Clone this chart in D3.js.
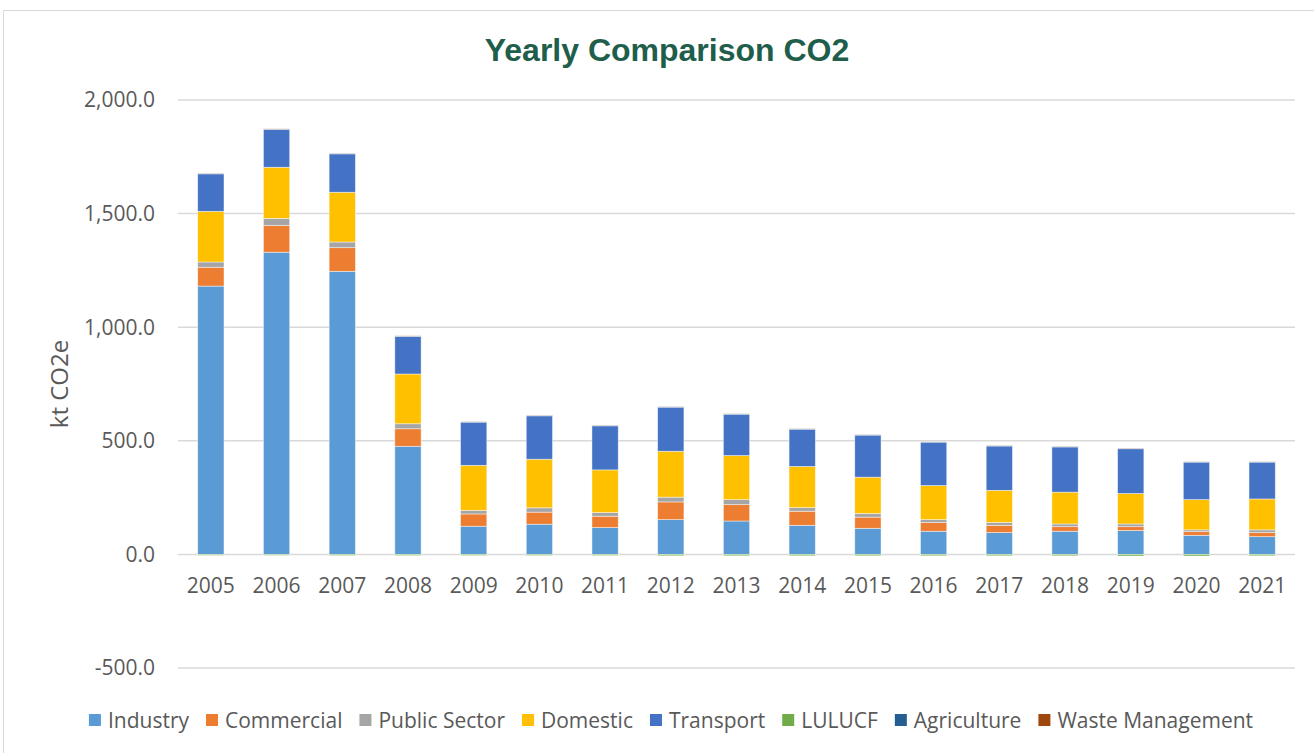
<!DOCTYPE html>
<html>
<head>
<meta charset="utf-8">
<script src="https://cdn.jsdelivr.net/npm/d3@7"></script>
<style>
  body { margin: 0; background: #fff; }
  svg { display: block; }
</style>
</head>
<body>
<svg id="chart" width="1314" height="753"></svg>
<script>
const years = ['2005', '2006', '2007', '2008', '2009', '2010', '2011', '2012', '2013',
  '2014', '2015', '2016', '2017', '2018', '2019', '2020', '2021'];
const seriesNames = ['Industry', 'Commercial', 'Public Sector', 'Domestic', 'Transport',
  'LULUCF', 'Agriculture', 'Waste Management'];

const industry = [1181, 1330, 1246, 476, 124, 133, 118, 153, 147, 128, 115, 102, 96, 102, 105, 84, 78];
const commercial = [83, 118, 104, 77, 54, 53, 50, 78, 72, 62, 49, 38, 32, 20, 17, 16, 18];
const publicSector = [23, 31, 25, 22, 16, 19, 16, 21, 22, 16, 16, 13, 13, 12, 12, 8, 12];
const domestic = [223, 225, 219, 219, 198, 214, 188, 202, 194, 181, 160, 150, 141, 140, 134, 133, 136];
const transport = [165, 166, 169, 165, 190, 191, 194, 194, 182, 164, 185, 191, 195, 199, 197, 165, 162];
const lulucf = [-4, -4, -5, -5, -5, -5, -5, -6, -6, -6, -6, -6, -6, -6, -7, -7, -6];
const agriculture = [2, 2, 2, 2, 2, 2, 2, 2, 2, 2, 2, 2, 2, 2, 2, 2, 2];
const wasteManagement = [1, 1, 1, 1, 1, 1, 1, 1, 1, 1, 1, 1, 1, 1, 1, 1, 1];

const yTicks = [-500, 0, 500, 1000, 1500, 2000];

const colors = ['#5B9BD5', '#ED7D31', '#A5A5A5', '#FFC000', '#4472C4', '#70AD47', '#255E91', '#9E480E'];

// build rows for the stack
const allSeries = [industry, commercial, publicSector, domestic, transport, lulucf, agriculture, wasteManagement];
const rows = years.map((y, i) => {
  let row = {year: y};
  seriesNames.forEach((name, j) => { row[name] = allSeries[j][i]; });
  return row;
});

const svg = d3.select('#chart');
const fontFamily = '"Open Sans", "DejaVu Sans", sans-serif';
const textColor = '#595959';
// plain hyphen for negatives, like the original
const fmt = d3.formatLocale({decimal: '.', thousands: ',', grouping: [3], currency: ['', ''], minus: '-'}).format(',.1f');

// chart border
svg.append('rect')
  .attr('x', 3.5).attr('y', 10.5)
  .attr('width', 1330).attr('height', 760)
  .attr('fill', 'none')
  .attr('stroke', '#d9d9d9')
  .attr('stroke-width', 1);

const x = d3.scaleBand()
  .domain(years)
  .range([178, 1295])
  .paddingInner(0.6)
  .paddingOuter(0.3);

const y = d3.scaleLinear()
  .domain([-500, 2000])
  .range([668, 100]);

// gridlines
svg.append('g')
  .selectAll('line')
  .data(yTicks)
  .enter()
  .append('line')
  .attr('x1', 178).attr('x2', 1295)
  .attr('y1', (d) => y(d)).attr('y2', (d) => y(d))
  .attr('stroke', '#d9d9d9')
  .attr('stroke-width', 1.5);

// y tick labels
svg.append('g')
  .selectAll('text')
  .data(yTicks)
  .enter()
  .append('text')
  .attr('x', 155)
  .attr('y', (d) => y(d))
  .attr('dy', '0.35em')
  .attr('text-anchor', 'end')
  .style('font-family', fontFamily)
  .style('font-size', '21px')
  .attr('fill', textColor)
  .text((d) => fmt(d));

// stacked bars
const stack = d3.stack()
  .keys(seriesNames)
  .offset(d3.stackOffsetDiverging);

const layers = stack(rows);

svg.append('g')
  .selectAll('g')
  .data(layers)
  .enter()
  .append('g')
  .attr('fill', (d, i) => colors[i])
  .selectAll('rect')
  .data((d) => d)
  .enter()
  .append('rect')
  .attr('x', (d) => x(d.data.year))
  .attr('width', x.bandwidth())
  .attr('y', (d) => y(Math.max(d[0], d[1])))
  .attr('height', (d) => Math.abs(y(d[0]) - y(d[1])))
  .attr('stroke', '#ffffff')
  .attr('stroke-opacity', 0.6)
  .attr('stroke-width', 0.75);

// x tick labels
svg.append('g')
  .selectAll('text')
  .data(years)
  .enter()
  .append('text')
  .attr('x', (d) => x(d) + x.bandwidth() / 2)
  .attr('y', 593)
  .attr('text-anchor', 'middle')
  .style('font-family', fontFamily)
  .style('font-size', '21px')
  .attr('fill', textColor)
  .text((d) => d);

// y axis title
svg.append('text')
  .attr('transform', 'translate(68,384) rotate(-90)')
  .attr('text-anchor', 'middle')
  .style('font-family', fontFamily)
  .style('font-size', '24px')
  .attr('fill', textColor)
  .text('kt CO2e');

// title
svg.append('text')
  .attr('x', 667)
  .attr('y', 61)
  .attr('text-anchor', 'middle')
  .style('font-family', '"Liberation Sans", Arial, sans-serif')
  .style('font-size', '32px')
  .style('font-weight', 'bold')
  .attr('fill', '#1E5E4B')
  .text('Yearly Comparison CO2');

// legend
const legend = svg.append('g');
let lx = 0;
seriesNames.forEach((name, i) => {
  const item = legend.append('g').attr('transform', 'translate(' + lx + ',0)');
  item.append('rect')
    .attr('x', 0).attr('y', 714)
    .attr('width', 12).attr('height', 12)
    .attr('fill', colors[i]);
  const t = item.append('text')
    .attr('x', 19).attr('y', 728)
    .style('font-family', fontFamily)
    .style('font-size', '21px')
    .attr('fill', textColor)
    .text(name);
  lx += 19 + t.node().getComputedTextLength() + 17;
});
const legendWidth = lx - 17;
legend.attr('transform', 'translate(' + (671 - legendWidth / 2) + ',0)');
</script>
</body>
</html>
